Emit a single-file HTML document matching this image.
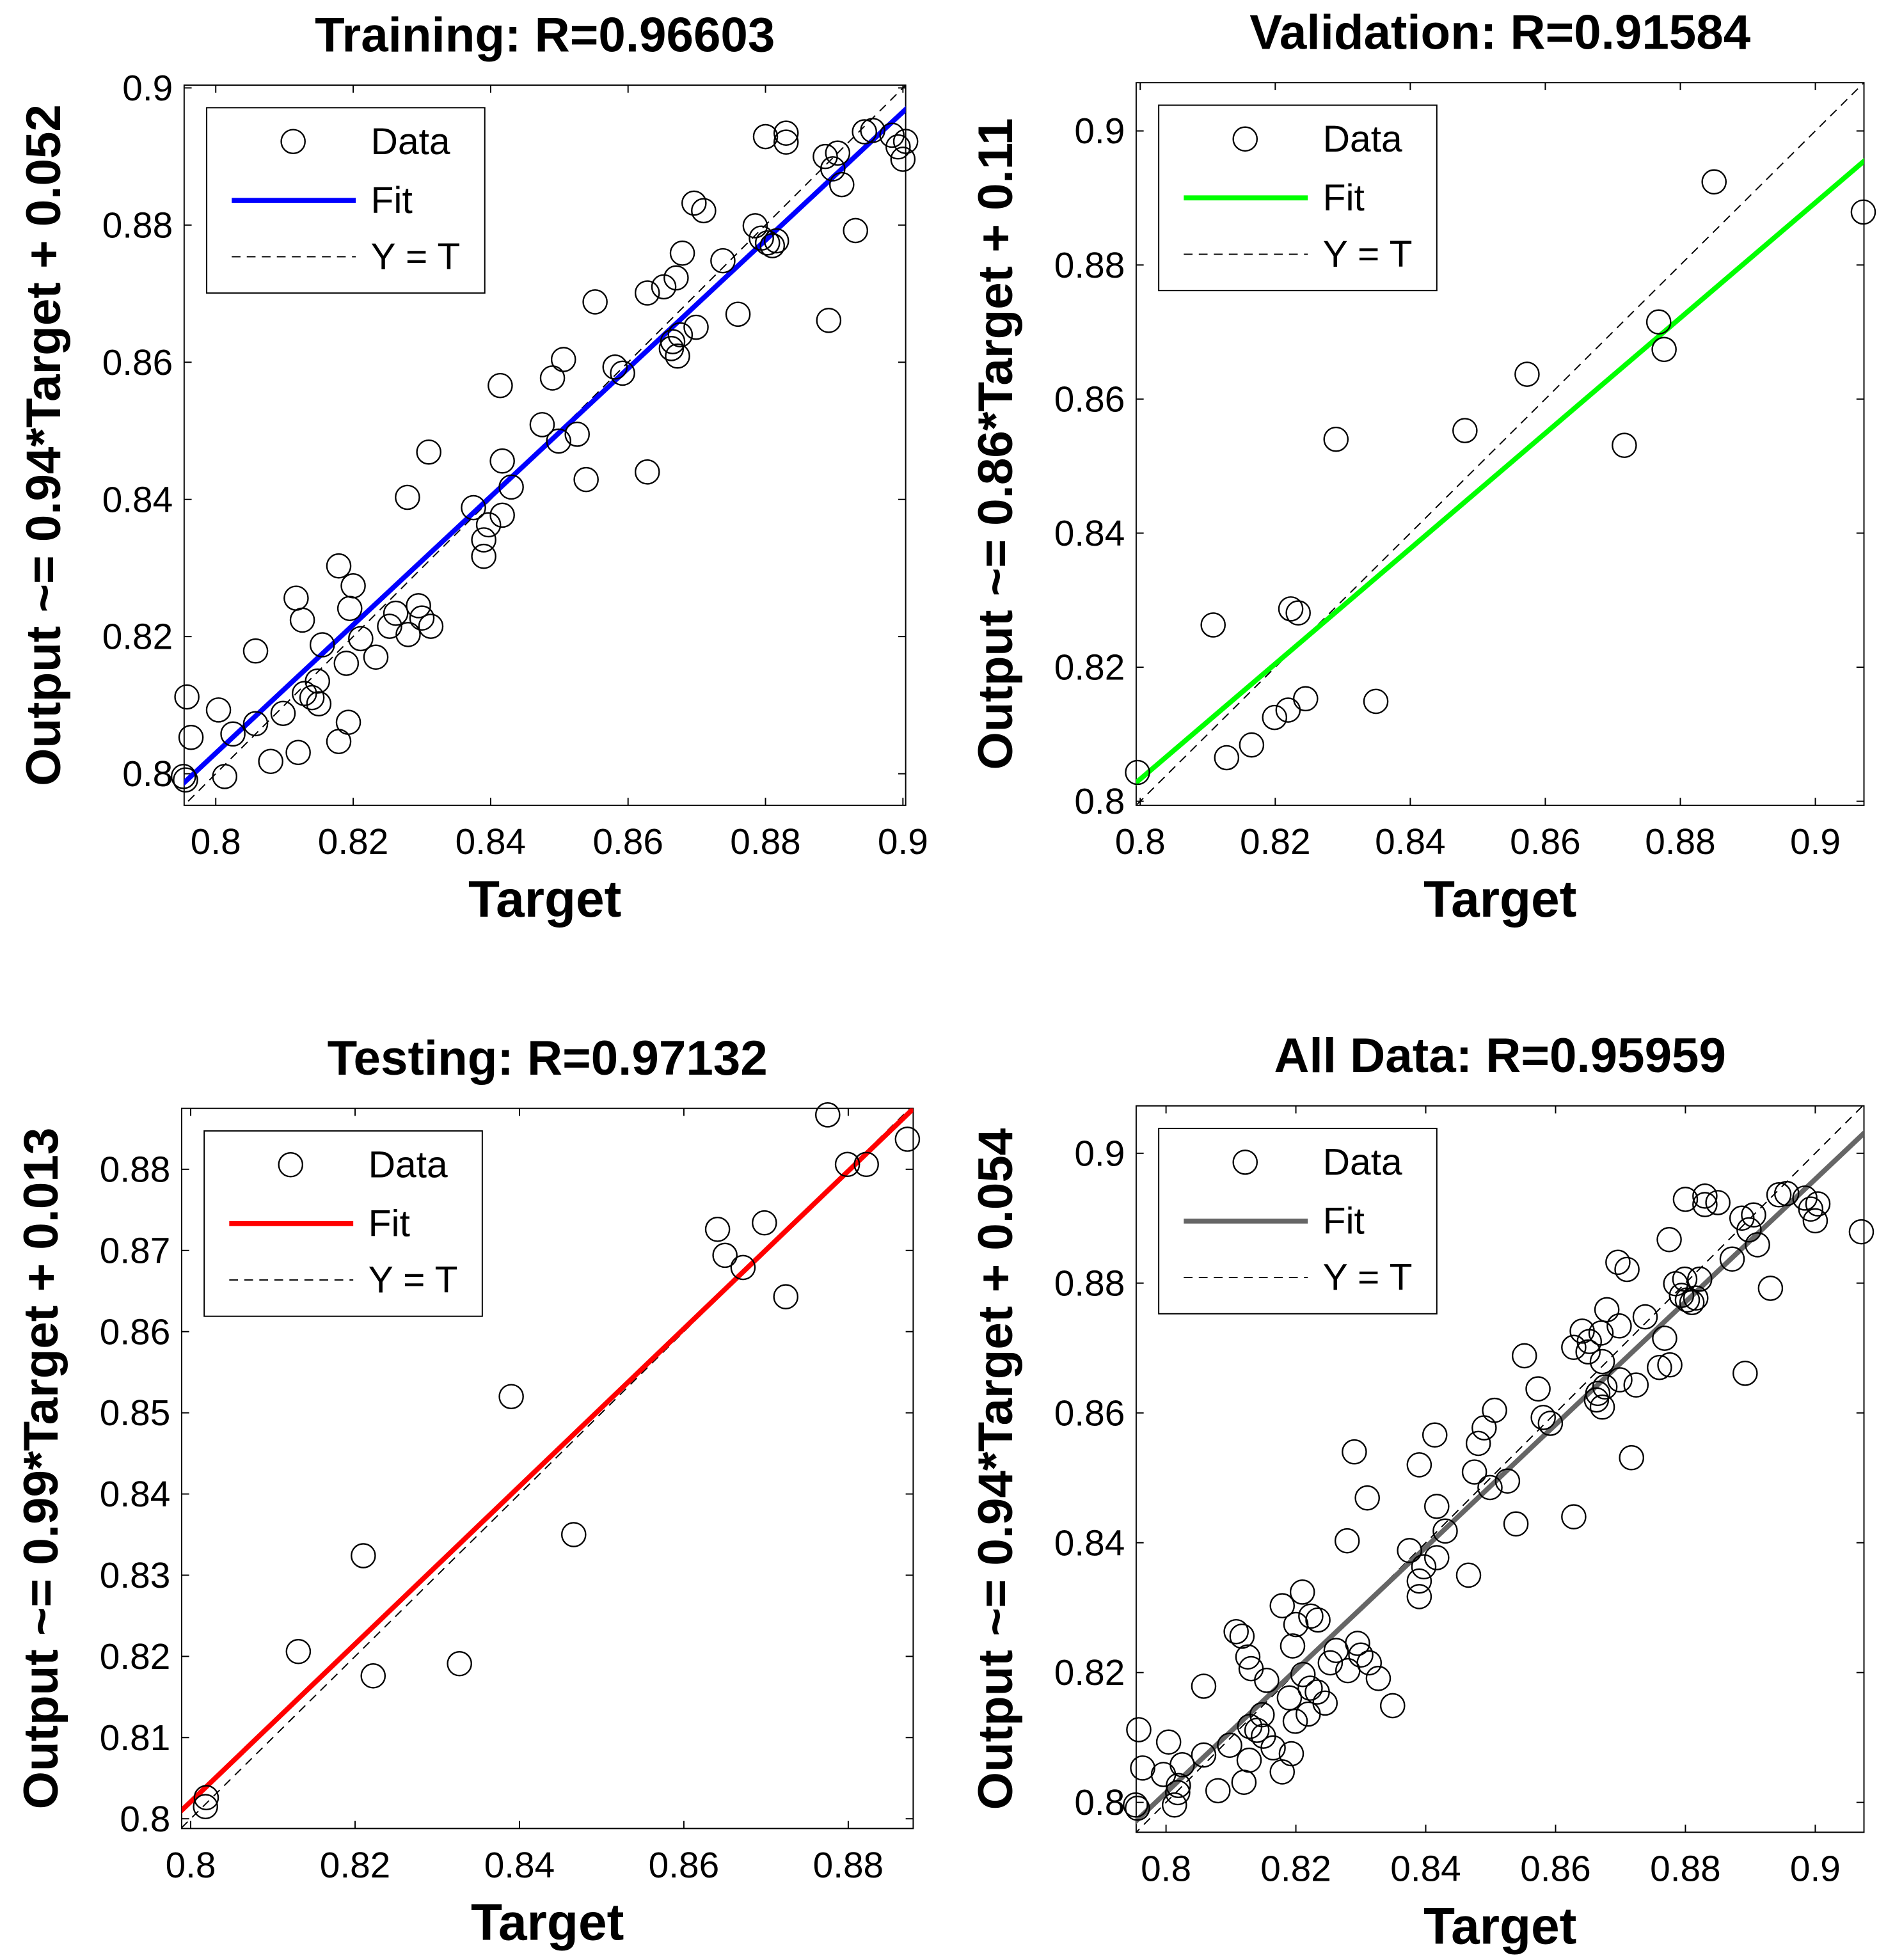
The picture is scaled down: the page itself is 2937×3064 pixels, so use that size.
<!DOCTYPE html>
<html><head><meta charset="utf-8"><style>
html,body{margin:0;padding:0;background:#fff;overflow:hidden;width:2937px;height:3064px}
svg{display:block}
text{font-family:"Liberation Sans",Arial,sans-serif}
</style></head><body>
<svg id="s" width="2937" height="3064" viewBox="0 0 1500 1565" preserveAspectRatio="none" xmlns="http://www.w3.org/2000/svg"></svg>
<script>
// Training data (target, output)
const trainT=[0.7958,0.7964,0.7953,0.7956,0.8004,0.8013,0.8025,0.8058,0.8058,0.8080,0.8098,0.8117,0.8120,0.8126,0.8129,0.8140,0.8148,0.8150,0.8155,0.8179,0.8179,0.8190,0.8193,0.8195,0.8200,0.8211,0.8233,0.8253,0.8262,0.8280,0.8279,0.8295,0.8300,0.8313,0.8310,0.8375,0.8390,0.8390,0.8397,0.8414,0.8417,0.8417,0.8430,0.8475,0.8490,0.8499,0.8506,0.8526,0.8539,0.8552,0.8581,0.8592,0.8628,0.8628,0.8652,0.8663,0.8665,0.8672,0.8676,0.8670,0.8679,0.8699,0.8696,0.8710,0.8738,0.8760,0.8785,0.8794,0.8800,0.8803,0.8810,0.8816,0.8830,0.8830,0.8887,0.8892,0.8898,0.8905,0.8911,0.8931,0.8944,0.8956,0.8984,0.8993,0.9000,0.9004];
const trainO=[0.8112,0.8053,0.7996,0.7991,0.8093,0.7996,0.8058,0.8073,0.8179,0.8018,0.8088,0.8256,0.8031,0.8224,0.8117,0.8111,0.8135,0.8102,0.8188,0.8303,0.8047,0.8161,0.8075,0.8241,0.8274,0.8197,0.8170,0.8215,0.8234,0.8203,0.8403,0.8245,0.8227,0.8215,0.8469,0.8388,0.8341,0.8317,0.8363,0.8566,0.8456,0.8377,0.8418,0.8509,0.8577,0.8485,0.8604,0.8495,0.8429,0.8688,0.8593,0.8584,0.8701,0.8440,0.8710,0.8620,0.8630,0.8609,0.8640,0.8723,0.8759,0.8651,0.8832,0.8821,0.8748,0.8670,0.8799,0.8781,0.8929,0.8774,0.8770,0.8777,0.8934,0.8921,0.8900,0.8661,0.8882,0.8905,0.8859,0.8792,0.8936,0.8938,0.8931,0.8914,0.8896,0.8922];
// Validation data
const valT=[0.7996,0.8108,0.8128,0.8165,0.8199,0.8219,0.8223,0.8234,0.8245,0.8290,0.8349,0.8481,0.8573,0.8717,0.8768,0.8776,0.8850,0.9071];
const valO=[0.8043,0.8263,0.8065,0.8084,0.8125,0.8136,0.8287,0.8281,0.8153,0.8540,0.8149,0.8553,0.8637,0.8531,0.8715,0.8674,0.8924,0.8879];
// Testing data
const testT=[0.8019,0.8018,0.8131,0.8210,0.8222,0.8327,0.8390,0.8466,0.8641,0.8650,0.8672,0.8698,0.8724,0.8775,0.8799,0.8822,0.8872];
const testO=[0.8026,0.8015,0.8206,0.8324,0.8176,0.8191,0.8520,0.8350,0.8726,0.8694,0.8679,0.8734,0.8643,0.8867,0.8806,0.8806,0.8837];
const titles=["Training: R=0.96603","Validation: R=0.91584","Testing: R=0.97132","All Data: R=0.95959"];
const yLabels=["Output ~= 0.94*Target + 0.052","Output ~= 0.86*Target + 0.11","Output ~= 0.99*Target + 0.013","Output ~= 0.94*Target + 0.054"];
const fitSlope=[0.935,0.860,0.971,0.945];
const fitIntercept=[0.0550,0.1153,0.0253,0.0455];
const fitColors=["#0000ff","#00ff00","#ff0000","#666666"];
const xTicks=[[0.8,0.82,0.84,0.86,0.88,0.9],[0.8,0.82,0.84,0.86,0.88,0.9],[0.8,0.82,0.84,0.86,0.88],[0.8,0.82,0.84,0.86,0.88,0.9]];
const yTicks=[[0.8,0.82,0.84,0.86,0.88,0.9],[0.8,0.82,0.84,0.86,0.88,0.9],[0.8,0.81,0.82,0.83,0.84,0.85,0.86,0.87,0.88],[0.8,0.82,0.84,0.86,0.88,0.9]];
const xLim=[[0.7954,0.9004],[0.7994,0.9072],[0.7989,0.8879],[0.7954,0.9075]];
const yLim=[[0.7954,0.9004],[0.7994,0.9072],[0.7988,0.8875],[0.7954,0.9073]];
const allT=trainT.concat(valT,testT), allO=trainO.concat(valO,testO);
const dataT=[trainT,valT,testT,allT], dataO=[trainO,valO,testO,allO];
const boxes=[[147,68,723,643],[907,66,1488,643],[145,885,729,1460],[907,883,1488,1463]];
const names=["training","validation","testing","all-data"];
const NS="http://www.w3.org/2000/svg", svg=document.getElementById('s');
function mk(tag,attrs,parent){const e=document.createElementNS(NS,tag);for(const k in attrs)e.setAttribute(k,attrs[k]);(parent||svg).appendChild(e);return e;}
function fmt(v){return String(+v.toFixed(3));}
for(let p=0;p<4;p++){
  const [x0,y0,x1,y1]=boxes[p];
  const g=mk('g',{});
  
  
  const sx=v=>x0+(v-xLim[p][0])/(xLim[p][1]-xLim[p][0])*(x1-x0);
  const sy=v=>y1-(v-yLim[p][0])/(yLim[p][1]-yLim[p][0])*(y1-y0);
  const cid='c'+p;
  const cp=mk('clipPath',{id:cid},g);mk('rect',{x:x0,y:y0,width:x1-x0,height:y1-y0},cp);
  const fr=mk('rect',{x:x0,y:y0,width:x1-x0,height:y1-y0,fill:'#fff',stroke:'#000','stroke-width':1},g);
  
  
  xTicks[p].forEach(v=>{const x=sx(v);
    mk('line',{x1:x,y1:y1,x2:x,y2:y1-6,stroke:'#000'},g);mk('line',{x1:x,y1:y0,x2:x,y2:y0+6,stroke:'#000'},g);
    const t=mk('text',{x:x,y:y1+39,'font-size':29,'text-anchor':'middle'},g);t.textContent=fmt(v);
    
    });
  yTicks[p].forEach(v=>{const y=sy(v);
    mk('line',{x1:x0,y1:y,x2:x0+6,y2:y,stroke:'#000'},g);mk('line',{x1:x1,y1:y,x2:x1-6,y2:y,stroke:'#000'},g);
    const t=mk('text',{x:x0-9,y:y+10,'font-size':29,'text-anchor':'end'},g);t.textContent=fmt(v);
    
    });
  const cg=mk('g',{'clip-path':'url(#'+cid+')'},g);
  const yt=mk('line',{x1:sx(0.7),y1:sy(0.7),x2:sx(1),y2:sy(1),stroke:'#000','stroke-width':1,'stroke-dasharray':'7,5'},cg);
  
  
  const fl=mk('line',{x1:sx(0.7),y1:sy(fitSlope[p]*0.7+fitIntercept[p]),x2:sx(1),y2:sy(fitSlope[p]*1+fitIntercept[p]),stroke:fitColors[p],'stroke-width':4},cg);
  
  
  dataT[p].forEach((v,i)=>{const c=mk('circle',{cx:sx(v),cy:sy(dataO[p][i]),r:9.5,fill:'none',stroke:'#000','stroke-width':1.2},g);
    
    });
  const tt=mk('text',{x:(x0+x1)/2,y:y0-27,'font-size':39,'font-weight':'bold','text-anchor':'middle'},g);tt.textContent=titles[p];
  
  
  const xl=mk('text',{x:(x0+x1)/2,y:y1+89,'font-size':41,'font-weight':'bold','text-anchor':'middle'},g);xl.textContent='Target';
  
  
  const lx=x0-99, ly=(y0+y1)/2;
  const yl=mk('text',{x:lx,y:ly,'font-size':39,'font-weight':'bold','text-anchor':'middle',transform:'rotate(-90 '+lx+' '+ly+')'},g);yl.textContent=yLabels[p];
  
  
  const bx=x0+18, by=y0+18;
  const lg=mk('g',{},g);
  
  
  mk('rect',{x:bx,y:by,width:222,height:148,fill:'#fff',stroke:'#000'},lg);
  mk('circle',{cx:bx+69,cy:by+27,r:9.5,fill:'none',stroke:'#000','stroke-width':1.2},lg);
  mk('line',{x1:bx+20,y1:by+74,x2:bx+119,y2:by+74,stroke:fitColors[p],'stroke-width':4},lg);
  mk('line',{x1:bx+20,y1:by+119,x2:bx+119,y2:by+119,stroke:'#000','stroke-dasharray':'7,5'},lg);
  [['Data',27],['Fit',74],['Y = T',119]].forEach(([s,dy])=>{const t=mk('text',{x:bx+131,y:by+dy+10,'font-size':30},lg);t.textContent=s;
    
    });
}
</script>
</body></html>
